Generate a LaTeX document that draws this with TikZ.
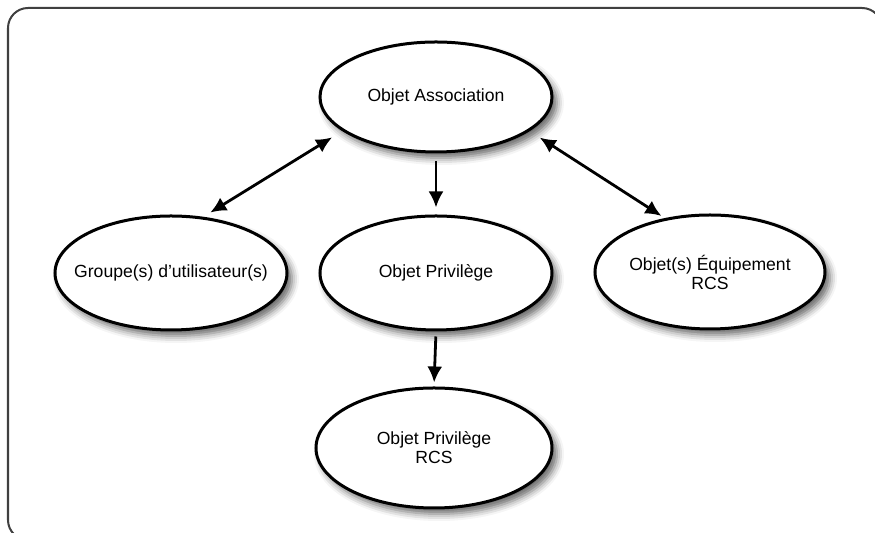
\documentclass[tikz,border=0pt]{standalone}
\usepackage{fontspec}
\setmainfont{Liberation Sans}
\usetikzlibrary{shapes.geometric,arrows.meta,shadows.blur}

\begin{document}
\begin{tikzpicture}[x=0.5pt, y=-0.5pt,
        obj/.style={ellipse, draw=black, line width=1.5pt, fill=white,
            minimum width=116pt, minimum height=57pt,
            inner xsep=-8pt, inner ysep=0pt,
            font=\fontsize{8.8}{9.5}\selectfont, align=center,
            blur shadow={shadow xshift=2.5pt, shadow yshift=-3pt,
                shadow blur radius=3.5pt, shadow opacity=60}},
        link/.style={line width=1.4pt, -{Latex[length=8pt,width=7.5pt]}},
        both/.style={line width=1.4pt,
            {Latex[length=8pt,width=7.5pt]}-{Latex[length=8pt,width=7.5pt]}}
      ]
      \useasboundingbox (0,0) rectangle (875,533);

      % outer frame, cut by the page on the right and at the bottom
      \draw[black!75, line width=1pt, rounded corners=10pt] (8,8) rectangle (882,540);

      % top node
      \node[obj, minimum height=55pt] at (436, 97)  (assoc)   {Objet Association};

      % middle row
      \node[obj]                      at (171, 273) (grp)     {Groupe(s) d'utilisateur(s)};
      \node[obj]                      at (436, 273) (priv)    {Objet Privilège};
      \node[obj, minimum width=115pt] at (710, 272) (equip)   {Objet(s) Équipement\\RCS};

      % bottom node
      \node[obj, minimum width=118pt, minimum height=60pt]
                                      at (434, 448) (privrcs) {Objet Privilège\\RCS};

      % two-way links
      \draw[both, shorten <=4pt, shorten >=6pt] (grp.60)    -- (assoc.200);
      \draw[both, shorten <=6pt, shorten >=2pt] (assoc.340) -- (equip.130);

      % one-way links
      \draw[link, shorten <=4pt, shorten >=3.5pt] (assoc.south) -- (priv.north);
      \draw[link, shorten <=2.5pt, shorten >=2pt] (priv.south)  -- (privrcs.north);
    \end{tikzpicture}
\end{document}
